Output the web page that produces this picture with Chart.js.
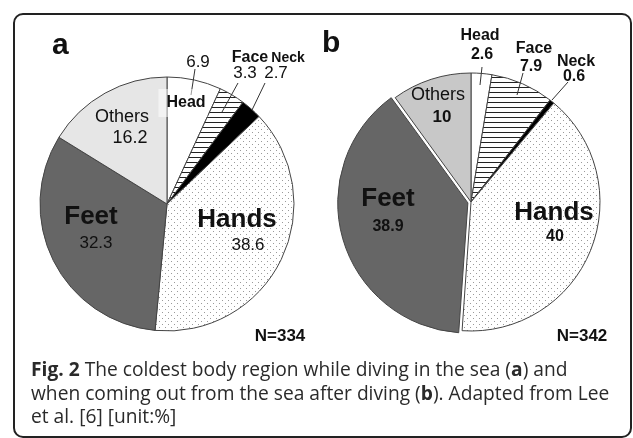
<!DOCTYPE html>
<html>
<head>
<meta charset="utf-8">
<script src="https://cdn.jsdelivr.net/npm/chart.js"></script>
<style>
  body { margin: 0; background: #fff; }
  #page { position: relative; width: 633px; height: 438px; overflow: hidden; }
  #frame { position: absolute; left: 13px; top: 13px; width: 619px; height: 425px;
           border: 2px solid #222; border-radius: 10px; box-sizing: border-box; }
  canvas { position: absolute; top: 0; }
  #chartA { left: 0; }
  #chartB { left: 311px; }
  .panel { position: absolute; font: bold 30px "Liberation Sans", Arial, sans-serif; color: #111; }
  #caption { position: absolute; left: 31px; top: 357px; white-space: nowrap;
             font: 19.2px "Open Sans", sans-serif; line-height: 23.5px; color: #2a2a2a; }
</style>
</head>
<body>
<div id="page">
  <div id="frame"></div>
  <canvas id="chartA" width="334" height="408"></canvas>
  <canvas id="chartB" width="320" height="404"></canvas>
  <div class="panel" style="left:52px;top:27px">a</div>
  <div class="panel" style="left:322px;top:25px">b</div>
  <div id="caption"><b>Fig. 2</b> The coldest body region while diving in the sea (<b>a</b>) and<br>when coming out from the sea after diving (<b>b</b>). Adapted from Lee<br>et al. [6] [unit:%]</div>
</div>
<script>
// данные
const regions = ['Head', 'Face', 'Neck', 'Hands', 'Feet', 'Others'];
const divingValues = [6.9, 3.3, 2.7, 38.6, 32.3, 16.2];      // (a) in the sea
const afterValues = [2.6, 7.9, 0.6, 40, 38.9, 10];            // (b) coming out
const divingN = 334;
const afterN = 342;

// узоры для секторов
function stripes() {
  const c = document.createElement('canvas');
  c.width = 8; c.height = 5;
  const g = c.getContext('2d');
  g.fillStyle = '#fff'; g.fillRect(0, 0, 8, 5);
  g.fillStyle = '#222'; g.fillRect(0, 2, 8, 1);
  return g.createPattern(c, 'repeat');
}
function dots() {
  const c = document.createElement('canvas');
  c.width = 6; c.height = 6;
  const g = c.getContext('2d');
  g.fillStyle = '#fff'; g.fillRect(0, 0, 6, 6);
  g.fillStyle = '#9a9a9a';
  g.fillRect(0, 0, 1, 1);
  g.fillRect(3, 3, 1, 1);
  return g.createPattern(c, 'repeat');
}

const sans = '"Liberation Sans", Arial, sans-serif';

// подписи: смещения от центра круга
const labelsA = {
  n: divingN, nPos: [113, 132],
  items: [
    { i: 0, name: [19, -101, 'bold 16px'], val: [31, -142, '17px'], line: [28, -135, 24, -109], bg: true },
    { i: 1, name: [83, -146, 'bold 16px'], val: [78, -131, '17px'], line: [71, -121, 55, -92] },
    { i: 2, name: [121, -146, 'bold 14px'], val: [109, -131, '17px'], line: [98, -121, 85, -94] },
    { i: 3, name: [70, 16, 'bold 26px'], val: [81, 41, '17px'] },
    { i: 4, name: [-76, 13, 'bold 26px'], val: [-71, 39, '17px'] },
    { i: 5, name: [-45, -87, '18px'], val: [-37, -66, '18px'] }
  ]
};
const labelsB = {
  n: afterN, nPos: [111, 134],
  items: [
    { i: 0, name: [9, -166, 'bold 16px'], val: [11, -147, 'bold 16px'], line: [11, -135, 9, -117] },
    { i: 1, name: [63, -153, 'bold 16px'], val: [60, -135, 'bold 16px'], line: [52, -129, 46, -107] },
    { i: 2, name: [105, -140, 'bold 16px'], val: [103, -125, 'bold 16px'], line: [97, -120, 81, -102] },
    { i: 3, name: [83, 11, 'bold 26px'], val: [84, 35, 'bold 16px'] },
    { i: 4, name: [-83, -3, 'bold 26px'], val: [-83, 25, 'bold 16px'] },
    { i: 5, name: [-33, -107, '18px'], val: [-29, -85, 'bold 17px'] }
  ]
};

const sliceLabels = {
  id: 'sliceLabels',
  afterDatasetsDraw(chart, args, opts) {
    const ctx = chart.ctx;
    const arc = chart.getDatasetMeta(0).data[0];
    const cx = arc.x, cy = arc.y;
    const values = chart.data.datasets[0].data;
    ctx.save();
    ctx.textAlign = 'center';
    ctx.textBaseline = 'middle';
    ctx.strokeStyle = '#333';
    ctx.lineWidth = 1;
    opts.items.forEach(it => {
      if (it.line) {
        ctx.beginPath();
        ctx.moveTo(cx + it.line[0], cy + it.line[1]);
        ctx.lineTo(cx + it.line[2], cy + it.line[3]);
        ctx.stroke();
      }
      ctx.font = it.name[2] + ' ' + sans;
      if (it.bg) {
        const w = ctx.measureText(chart.data.labels[it.i]).width;
        ctx.fillStyle = 'rgba(255,255,255,0.5)';
        ctx.fillRect(cx + it.name[0] - w / 2 - 8, cy + it.name[1] - 14, w + 10, 28);
      }
      ctx.fillStyle = '#111';
      ctx.fillText(chart.data.labels[it.i], cx + it.name[0], cy + it.name[1]);
      ctx.font = it.val[2] + ' ' + sans;
      ctx.fillText(String(values[it.i]), cx + it.val[0], cy + it.val[1]);
    });
    ctx.font = 'bold 17px ' + sans;
    ctx.fillText('N=' + opts.n, cx + opts.nPos[0], cy + opts.nPos[1]);
    ctx.restore();
  }
};

function makePie(id, values, radius, offsets, othersColor, labelOpts) {
  return new Chart(document.getElementById(id), {
    type: 'pie',
    data: {
      labels: regions,
      datasets: [{
        data: values,
        backgroundColor: ['#ffffff', stripes(), '#000000', dots(), '#666666', othersColor],
        borderColor: '#444',
        borderWidth: 1,
        offset: offsets,
        radius: radius
      }]
    },
    options: {
      responsive: false,
      animation: false,
      events: [],
      layout: { padding: 0 },
      plugins: {
        legend: { display: false },
        tooltip: { enabled: false },
        sliceLabels: labelOpts
      }
    },
    plugins: [sliceLabels]
  });
}

makePie('chartA', divingValues, 127, [0, 0, 0, 0, 0, 0], '#e6e6e6', labelsA);
makePie('chartB', afterValues, 129, [0, 0, 0, 0, 13, 0], '#c8c8c8', labelsB);
</script>
</body>
</html>
